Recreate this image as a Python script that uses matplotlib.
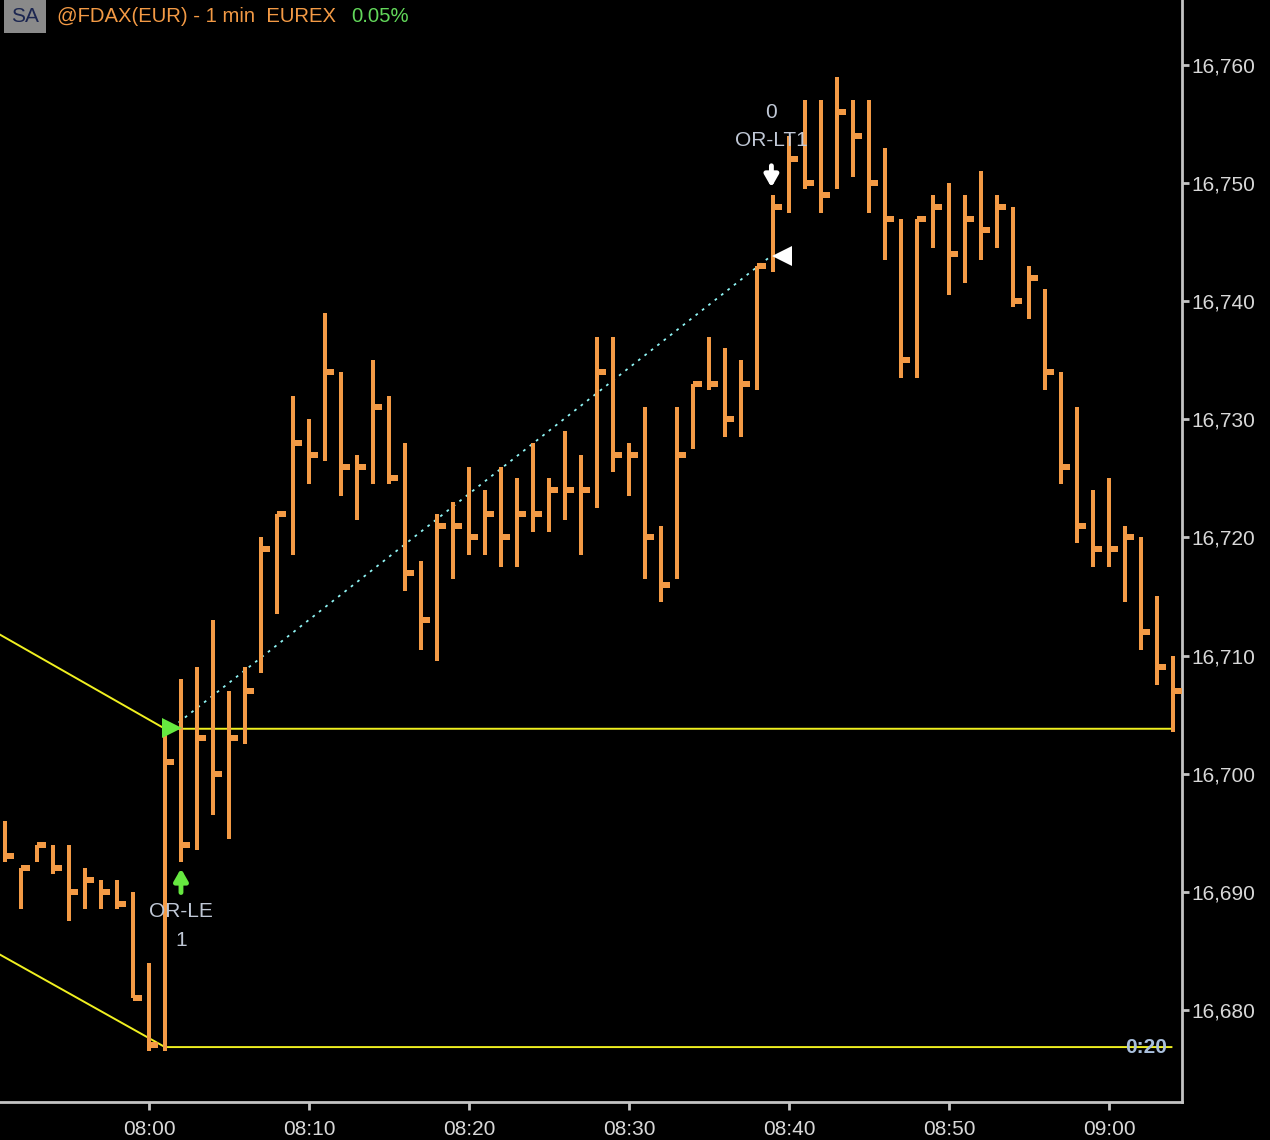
import numpy as np
import matplotlib.pyplot as plt
from matplotlib.ticker import FuncFormatter

plt.rcParams['font.family'] = ['Liberation Sans', 'DejaVu Sans']

# minutes relative to 08:00, one bar per minute from 07:51 to 09:04
minutes = np.arange(-9, 65)

highs = [16696, 16692, 16694, 16694, 16694, 16692, 16691, 16691, 16690,
         16684, 16704, 16708, 16709, 16713, 16707, 16709, 16720, 16722, 16732,
         16730, 16739, 16734, 16727, 16735, 16732, 16728, 16718, 16722, 16723,
         16726, 16724, 16726, 16725, 16728, 16725, 16729, 16727, 16737, 16737,
         16728, 16731, 16721, 16731, 16733, 16737, 16736, 16735, 16743, 16749,
         16754, 16757, 16757, 16759, 16757, 16757, 16753, 16747, 16747, 16749,
         16750, 16749, 16751, 16749, 16748, 16743, 16741, 16734, 16731, 16724,
         16725, 16721, 16720, 16715, 16710]
lows = [16692.5, 16688.5, 16692.5, 16691.5, 16687.5, 16688.5, 16688.5, 16688.5, 16681,
        16676.5, 16676.5, 16692.5, 16693.5, 16696.5, 16694.5, 16702.5, 16708.5, 16713.5, 16718.5,
        16724.5, 16726.5, 16723.5, 16721.5, 16724.5, 16724.5, 16715.5, 16710.5, 16709.5, 16716.5,
        16718.5, 16718.5, 16717.5, 16717.5, 16720.5, 16720.5, 16721.5, 16718.5, 16722.5, 16725.5,
        16723.5, 16716.5, 16714.5, 16716.5, 16727.5, 16732.5, 16728.5, 16728.5, 16732.5, 16742.5,
        16747.5, 16749.5, 16747.5, 16749.5, 16750.5, 16747.5, 16743.5, 16733.5, 16733.5, 16744.5,
        16740.5, 16741.5, 16743.5, 16744.5, 16739.5, 16738.5, 16732.5, 16724.5, 16719.5, 16717.5,
        16717.5, 16714.5, 16710.5, 16707.5, 16703.5]
closes = [16693, 16692, 16694, 16692, 16690, 16691, 16690, 16689, 16681,
          16677, 16701, 16694, 16703, 16700, 16703, 16707, 16719, 16722, 16728,
          16727, 16734, 16726, 16726, 16731, 16725, 16717, 16713, 16721, 16721,
          16720, 16722, 16720, 16722, 16722, 16724, 16724, 16724, 16734, 16727,
          16727, 16720, 16716, 16727, 16733, 16733, 16730, 16733, 16743, 16748,
          16752, 16750, 16749, 16756, 16754, 16750, 16747, 16735, 16747, 16748,
          16744, 16747, 16746, 16748, 16740, 16742, 16734, 16726, 16721, 16719,
          16719, 16720, 16712, 16709, 16707]

# opening range lines (left edge, start of range, right end)
or_x = [-10, 1, 63.9]
or_high = [16712.3, 16703.8, 16703.8]
or_low = [16685.2, 16676.85, 16676.85]

# trade: entry / exit
entry_x, entry_price = 1.45, 16703.9
exit_x, exit_price = 39.45, 16743.8

price_ticks = np.arange(16680, 16761, 10)
time_ticks = [0, 10, 20, 30, 40, 50, 60]
time_labels = ['08:00', '08:10', '08:20', '08:30', '08:40', '08:50', '09:00']

orange = '#f39a45'
grey = '#c4c4c4'
fs = 15

fig = plt.figure(figsize=(12.7, 11.4), dpi=100, facecolor='black')
ax = fig.add_axes([0, 38 / 1140, 1182 / 1270, 1 - 38 / 1140])
ax.set_facecolor('black')

# trade line and yellow range lines
ax.plot([entry_x, exit_x - 0.6], [entry_price, exit_price], color='#8ff4f4',
        lw=1.3, ls=(0, (1.5, 3)), zorder=2)
ax.plot(or_x, or_high, color='#f0f020', lw=1.4, zorder=1)
ax.plot(or_x, or_low, color='#f0f020', lw=1.4, zorder=1)

# HLC bars
px = 72 / 100
ax.vlines(minutes, lows, highs, color=orange, lw=4 * px, zorder=3)
ax.hlines(closes, minutes, minutes + 0.55, color=orange, lw=6 * px, zorder=3)

# markers
ax.plot(entry_x, entry_price, marker='>', color='#66e840', ms=14, mew=0, zorder=5)
ax.plot(exit_x + 0.1, exit_price, marker='<', color='white', ms=14, mew=0, zorder=5)
ax.annotate('', xy=(2.0, 16692.2), xytext=(2.0, 16689.7),
            arrowprops=dict(arrowstyle='-|>,head_width=0.4,head_length=0.7',
                            color='#66e840', lw=3.5), zorder=5)
ax.annotate('', xy=(38.9, 16749.4), xytext=(38.9, 16751.7),
            arrowprops=dict(arrowstyle='-|>,head_width=0.4,head_length=0.7',
                            color='white', lw=3.5), zorder=5)

txt = '#c0c8d6'
ax.text(2.0, 16688.3, 'OR-LE', color=txt, fontsize=fs, ha='center', va='center')
ax.text(2.0, 16685.9, '1', color=txt, fontsize=fs, ha='center', va='center')
ax.text(38.9, 16756.0, '0', color=txt, fontsize=fs, ha='center', va='center')
ax.text(38.9, 16753.6, 'OR-LT1', color=txt, fontsize=fs, ha='center', va='center')
ax.text(62.3, 16676.8, '0:20', color='#a9bfdc', fontsize=fs, fontweight='bold',
        ha='center', va='center', zorder=6)

# header
fig.text(0.0085, 0.9855, 'SA', color='#1c2650', fontsize=fs, va='center',
         bbox=dict(boxstyle='square,pad=0.35', fc='#8a8a8a', ec='none'))
fig.text(0.045, 0.9855, '@FDAX(EUR) - 1 min  EUREX', color=orange, fontsize=14.6,
         va='center')
fig.text(0.2765, 0.9855, '0.05%', color='#62d85a', fontsize=14.6, va='center')

ax.set_xlim(-9.31, 64.56)
ax.set_ylim(16672.2, 16765.5)

ax.yaxis.tick_right()
ax.set_yticks(price_ticks)
ax.yaxis.set_major_formatter(FuncFormatter(lambda v, p: f'{v:,.0f}'))
ax.set_xticks(time_ticks)
ax.set_xticklabels(time_labels)
ax.tick_params(colors=grey, labelcolor='#d8d8d8', labelsize=fs, width=2)
ax.tick_params(axis='y', length=5, pad=1.5)
ax.tick_params(axis='x', length=6, pad=7)

for s in ['top', 'left']:
    ax.spines[s].set_visible(False)
for s in ['right', 'bottom']:
    ax.spines[s].set_color(grey)
    ax.spines[s].set_linewidth(2)

fig.savefig('out.png', dpi=100, facecolor='black')
